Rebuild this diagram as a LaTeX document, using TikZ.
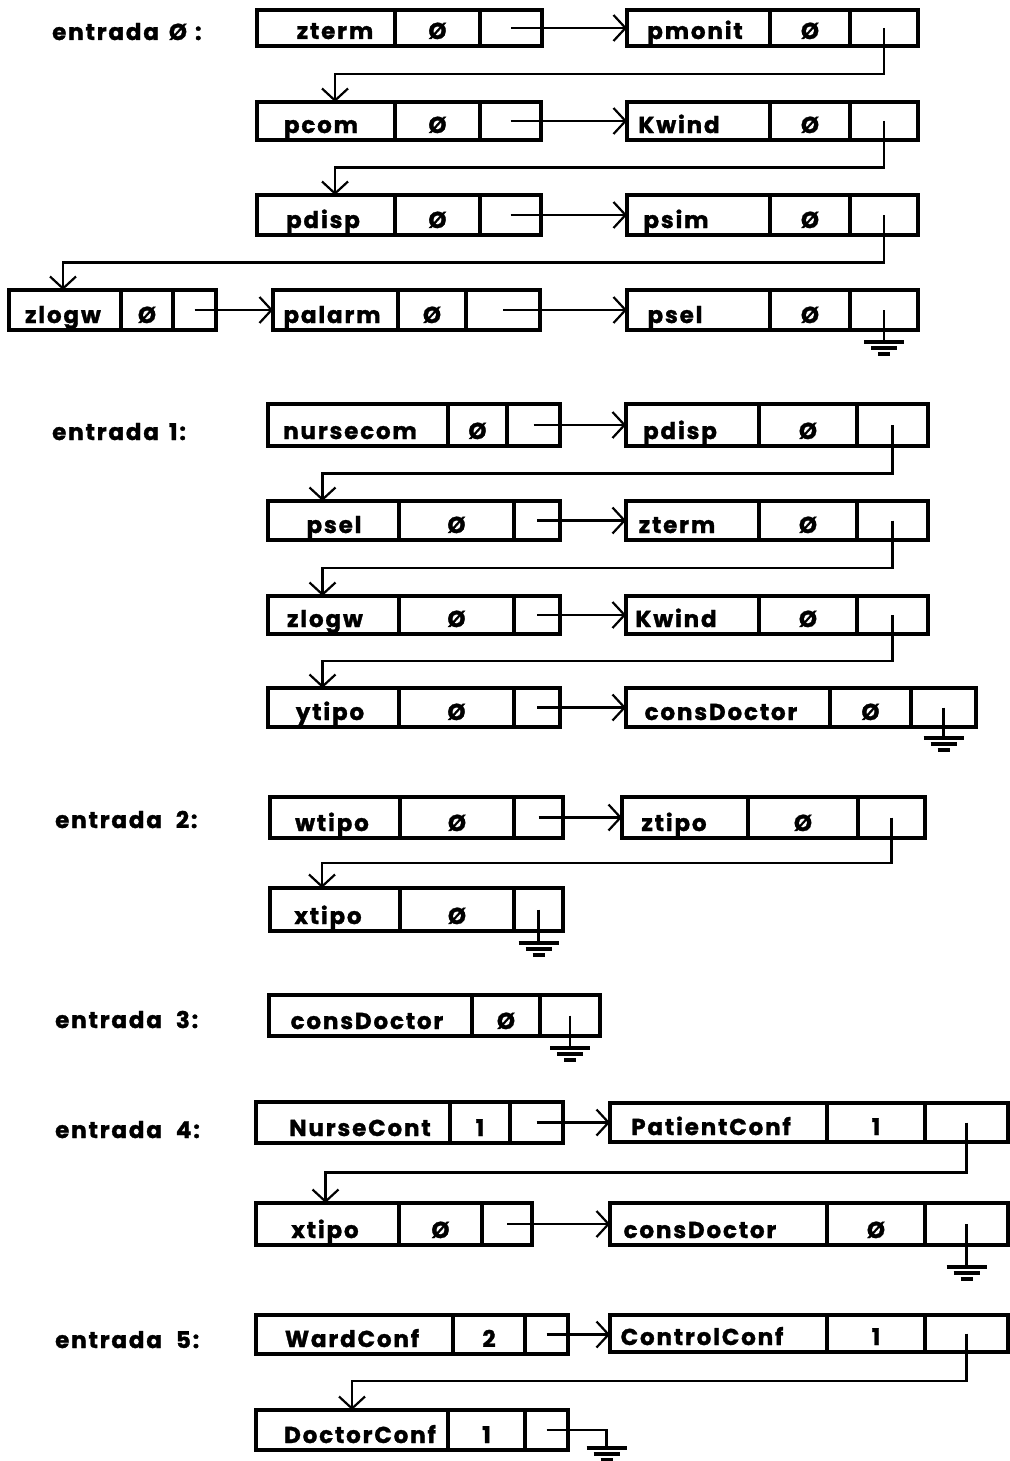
\documentclass[tikz,border=0pt]{standalone}
\usepackage{fontspec}
\setmainfont{Poppins}[LetterSpace=8, BoldFeatures={FakeBold=1.3}]
\usetikzlibrary{arrows.meta,calc}
\tikzset{
  cell/.style={draw, rectangle, line width=3.3pt, inner sep=0pt, outer sep=0pt},
  lbl/.style={font=\bfseries\fontsize{23}{27}\selectfont, inner sep=0pt},
  arr/.style={line width=2.2pt, -{Straight Barb[length=12pt,width=26pt]}},
  wire/.style={line width=2.2pt},
  gbar/.style={line width=3.2pt}
}
\newcommand\rec[7]{%
  \node[cell, anchor=north west, minimum width={#3-#2}, minimum height={#7-#6}] (#1a) at (#2,#6) {};
  \node[cell, anchor=north west, minimum width={#4-#3}, minimum height={#7-#6}] (#1b) at (#3,#6) {};
  \node[cell, anchor=north west, minimum width={#5-#4}, minimum height={#7-#6}] (#1c) at (#4,#6) {};
}
\newcommand\txt[5]{%
  \node[lbl, anchor=base] (#1t) at (#2, #3-7) {#4};
  \node[lbl, anchor=base] (#1v) at ([yshift=7pt]#1b.south) {#5};
}
\newcommand\harr[2]{\draw[arr] (#1c.center) -- (#1c.center -| #2a.west);}
\newcommand\ptr[3]{%
  \coordinate (#1m) at ($(#1c.south)!0.5!(#2a.north)$);
  \draw[arr] (#1c.center) -- (#1c.center |- #1m) -| ([xshift=#3pt]#2a.north);
}
\newcommand\gbars[1]{%
  \draw[gbar] ([xshift=-20pt]#1) -- ([xshift=20pt]#1);
  \draw[gbar] ([shift={(-13pt,-6pt)}]#1) -- ([shift={(13pt,-6pt)}]#1);
  \draw[gbar] ([shift={(-6pt,-12pt)}]#1) -- ([shift={(6pt,-12pt)}]#1);
}
\newcommand\gnd[2]{%
  \draw[wire] (#1c.center) -- ([yshift=-#2pt]#1c.south) coordinate (#1g);
  \gbars{#1g}
}
\begin{document}
\begin{tikzpicture}[x=1pt,y=-1pt]
\useasboundingbox[fill=white] (0,0) rectangle (1009,1461);

% ---------- entrada 0
\node[lbl, anchor=base west] (L0) at (52,40) {entrada\hspace{10pt}Ø\hspace{8pt}:};
\rec{A}{257}{395}{480}{542}{10}{46}
\rec{B}{627}{770}{850}{918}{10}{46}
\rec{C}{257}{395}{480}{541}{102}{140}
\rec{D}{627}{770}{850}{918}{102}{140}
\rec{E}{257}{395}{480}{541}{195}{235}
\rec{F}{627}{770}{850}{918}{195}{235}
\rec{G}{9}{121}{173}{216}{290}{330}
\rec{H}{273}{398}{466}{540}{290}{330}
\rec{I}{627}{770}{850}{918}{290}{330}
\txt{A}{335}{46}{zterm}{Ø}
\txt{B}{695}{46}{pmonit}{Ø}
\txt{C}{321}{140}{pcom}{Ø}
\txt{D}{679}{140}{Kwind}{Ø}
\txt{E}{323}{235}{pdisp}{Ø}
\txt{F}{676}{235}{psim}{Ø}
\txt{G}{63}{330}{zlogw}{Ø}
\txt{H}{332}{330}{palarm}{Ø}
\txt{I}{675}{330}{psel}{Ø}
\harr{A}{B}
\harr{C}{D}
\harr{E}{F}
\harr{G}{H}
\harr{H}{I}
\ptr{B}{C}{9}
\ptr{D}{E}{9}
\ptr{F}{G}{-2}
\gnd{I}{12}

% ---------- entrada 1
\node[lbl, anchor=base west] (L1) at (52,440) {entrada\hspace{10pt}1:};
\rec{J}{268}{448}{507}{560}{404}{446}
\rec{K}{626}{759}{857}{928}{404}{446}
\rec{L}{268}{399}{514}{560}{501}{540}
\rec{M}{626}{759}{857}{928}{501}{540}
\rec{N}{268}{399}{514}{560}{596}{634}
\rec{O}{626}{759}{857}{928}{596}{634}
\rec{P}{268}{399}{514}{560}{688}{727}
\rec{Q}{626}{830}{911}{976}{688}{727}
\txt{J}{350}{446}{nursecom}{Ø}
\txt{K}{680}{446}{pdisp}{Ø}
\txt{L}{334}{540}{psel}{Ø}
\txt{M}{677}{540}{zterm}{Ø}
\txt{N}{325}{634}{zlogw}{Ø}
\txt{O}{676}{634}{Kwind}{Ø}
\txt{P}{330}{727}{ytipo}{Ø}
\txt{Q}{721}{727}{consDoctor}{Ø}
\harr{J}{K}
\harr{L}{M}
\harr{N}{O}
\harr{P}{Q}
\ptr{K}{L}{-11}
\ptr{M}{N}{-11}
\ptr{O}{P}{-11}
\gnd{Q}{11}

% ---------- entrada 2
\node[lbl, anchor=base west] (L2) at (55,828) {entrada\hspace{14pt}2:};
\rec{R}{270}{400}{514}{563}{797}{838}
\rec{S}{622}{748}{858}{925}{797}{838}
\rec{T}{270}{400}{514}{563}{888}{931}
\txt{R}{332}{838}{wtipo}{Ø}
\txt{S}{674}{838}{ztipo}{Ø}
\txt{T}{328}{931}{xtipo}{Ø}
\harr{R}{S}
\ptr{S}{T}{-13}
\gnd{T}{12}

% ---------- entrada 3
\node[lbl, anchor=base west] (L3) at (55,1028) {entrada\hspace{14pt}3:};
\rec{U}{269}{472}{540}{600}{995}{1036}
\txt{U}{367}{1036}{consDoctor}{Ø}
\gnd{U}{12}

% ---------- entrada 4
\node[lbl, anchor=base west] (L4) at (55,1138) {entrada\hspace{14pt}4:};
\rec{V}{256}{450}{510}{563}{1102}{1143}
\rec{W}{610}{827}{925}{1008}{1103}{1142}
\rec{X}{256}{399}{482}{532}{1203}{1245}
\rec{Y}{610}{827}{925}{1008}{1203}{1245}
\txt{V}{360}{1143}{NurseCont}{1}
\txt{W}{711}{1142}{PatientConf}{1}
\txt{X}{325}{1245}{xtipo}{Ø}
\txt{Y}{700}{1245}{consDoctor}{Ø}
\harr{V}{W}
\harr{X}{Y}
\ptr{W}{X}{-2}
\gnd{Y}{22}

% ---------- entrada 5
\node[lbl, anchor=base west] (L5) at (55,1348) {entrada\hspace{14pt}5:};
\rec{Z}{256}{453}{525}{568}{1315}{1354}
\rec{AA}{610}{827}{925}{1008}{1315}{1352}
\rec{AB}{256}{448}{525}{568}{1410}{1450}
\txt{Z}{352}{1354}{WardConf}{2}
\txt{AA}{702}{1352}{ControlConf}{1}
\txt{AB}{360}{1450}{DoctorConf}{1}
\harr{Z}{AA}
\ptr{AA}{AB}{0}
\draw[wire] (ABc.center) -- ++(60,0) -- ++(0,18) coordinate (ABg);
\gbars{ABg}
\end{tikzpicture}
\end{document}
